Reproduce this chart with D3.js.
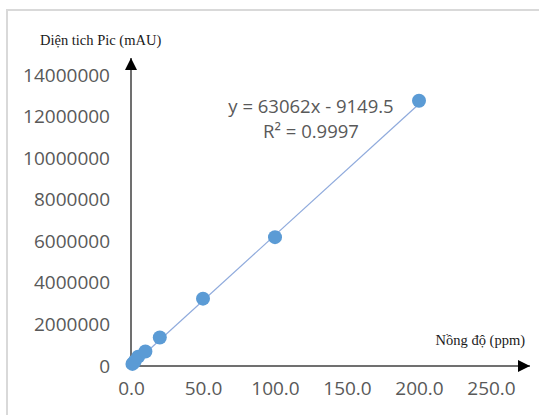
<!DOCTYPE html>
<html lang="vi">
<head>
<meta charset="UTF-8">
<title>Đường chuẩn</title>
<script src="https://d3js.org/d3.v7.min.js"></script>
<style>
  body { margin: 0; background: #fff; }
  .tick text { font-family: "Open Sans", sans-serif; font-size: 19px; fill: #595959; }
  .serif { font-family: "Liberation Serif", "Times New Roman", serif; fill: #1a1a1a; }
  .eq { font-family: "Open Sans", sans-serif; font-size: 18.5px; fill: #595959; }
</style>
</head>
<body>
<div id="chart"></div>
<script>
// Dữ liệu
const nongDo = [1, 2.5, 5, 10, 20, 50, 100, 200];
const dienTich = [100000, 220000, 450000, 700000, 1370000, 3240000, 6200000, 12760000];
const xTicks = [0, 50, 100, 150, 200, 250];
const yTicks = [0, 2000000, 4000000, 6000000, 8000000, 10000000, 12000000, 14000000];
const heSo = { slope: 63062, intercept: -9149.5, r2: 0.9997 };

const W = 539, H = 415;
const svg = d3.select("#chart").append("svg")
    .attr("width", W).attr("height", H);

// Khung ngoài
svg.append("rect")
    .attr("x", 7).attr("y", 10)
    .attr("width", W).attr("height", H)
    .attr("fill", "#fff")
    .attr("stroke", "#d9d9d9").attr("stroke-width", 2);

const x = d3.scaleLinear().domain([0, 250]).range([131, 491]);
const y = d3.scaleLinear().domain([0, 14000000]).range([366, 75]);

// Trục y (chỉ nhãn)
svg.append("g")
    .attr("transform", "translate(110,0)")
    .call(d3.axisLeft(y).tickValues(yTicks).tickSize(0).tickPadding(0).tickFormat(d3.format("d")))
    .call(g => g.select(".domain").remove());

// Trục x (chỉ nhãn)
svg.append("g")
    .attr("transform", "translate(0,381)")
    .call(d3.axisBottom(x).tickValues(xTicks).tickSize(0).tickPadding(0).tickFormat(d3.format(".1f")))
    .call(g => g.select(".domain").remove());

// Mũi tên
svg.append("defs").append("marker")
    .attr("id", "arrow")
    .attr("viewBox", "0 0 10 10")
    .attr("refX", 10).attr("refY", 5)
    .attr("markerWidth", 15).attr("markerHeight", 12)
    .attr("markerUnits", "userSpaceOnUse")
    .attr("orient", "auto")
    .append("path")
    .attr("d", "M 0 0 L 10 5 L 0 10 z")
    .attr("fill", "#000");

// Đường trục có mũi tên
svg.append("line")
    .attr("x1", x(0)).attr("x2", x(0))
    .attr("y1", y(0)).attr("y2", 58)
    .attr("stroke", "#404040").attr("stroke-width", 1.5)
    .attr("marker-end", "url(#arrow)");

svg.append("line")
    .attr("x1", x(0)).attr("x2", 530)
    .attr("y1", y(0)).attr("y2", y(0))
    .attr("stroke", "#404040").attr("stroke-width", 1.5)
    .attr("marker-end", "url(#arrow)");

// Đường hồi quy
const xMin = 0, xMax = d3.max(nongDo);
svg.append("line")
    .attr("x1", x(xMin)).attr("y1", y(heSo.slope * xMin + heSo.intercept))
    .attr("x2", x(xMax)).attr("y2", y(heSo.slope * xMax + heSo.intercept))
    .attr("stroke", "#8faadc").attr("stroke-width", 1.2);

// Điểm dữ liệu
svg.selectAll("circle.pt")
    .data(nongDo.map((d, i) => ({ x: d, y: dienTich[i] })))
    .enter().append("circle")
    .attr("class", "pt")
    .attr("cx", d => x(d.x))
    .attr("cy", d => y(d.y))
    .attr("r", 7)
    .attr("fill", "#5b9bd5");

// Phương trình
svg.append("text")
    .attr("class", "eq")
    .attr("x", 311).attr("y", 113)
    .attr("text-anchor", "middle")
    .text(`y = ${heSo.slope}x - ${Math.abs(heSo.intercept)}`);

svg.append("text")
    .attr("class", "eq")
    .attr("x", 311).attr("y", 138)
    .attr("text-anchor", "middle")
    .text(`R² = ${heSo.r2}`);

// Tên trục
svg.append("text")
    .attr("class", "serif")
    .attr("x", 40).attr("y", 45)
    .style("font-size", "14.5px")
    .text("Diện tich Pic (mAU)");

svg.append("text")
    .attr("class", "serif")
    .attr("x", 525).attr("y", 345)
    .attr("text-anchor", "end")
    .style("font-size", "14.5px")
    .text("Nồng độ (ppm)");
</script>
</body>
</html>
